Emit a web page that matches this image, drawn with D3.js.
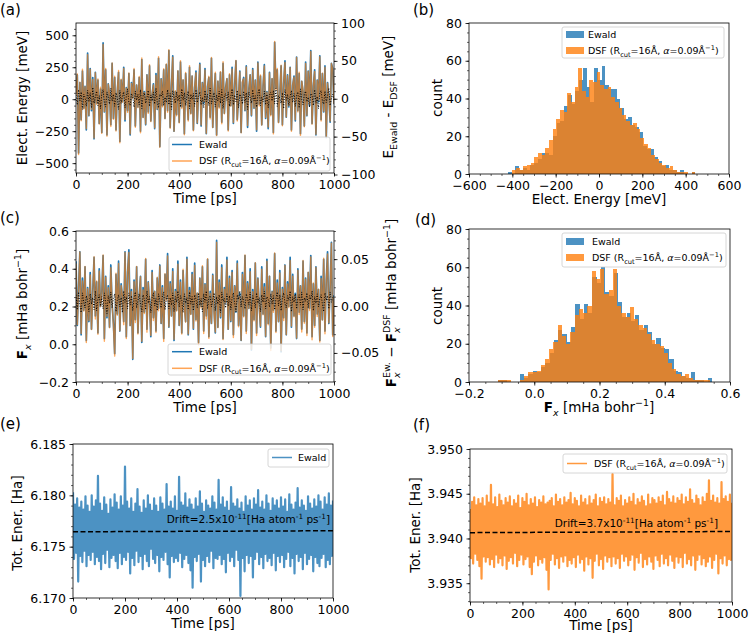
<!DOCTYPE html>
<html>
<head>
<meta charset="utf-8">
<script src="https://cdn.jsdelivr.net/npm/d3@7"></script>
<style>
  body { margin: 0; background: #fff; }
  svg text { font-family: "DejaVu Sans", sans-serif; }
</style>
</head>
<body>
<svg id="fig" width="750" height="638"></svg>
<script>
// ---- data ----

// (a) electrostatic energy, sampled every 5 ps [meV]
const timeA = d3.range(0, 1001, 5);
const elecEwald = [
  40, 190, -420, 130, -160, 220, -70, 100, -240, 360,
  -130, 240, -90, 170, -310, 210, -30, 150, -190, 80,
  -260, 440, -100, 230, -280, 120, 40, -200, 280, -150,
  170, -240, 60, 210, -330, 150, -20, 250, -170, 90,
  -90, 200, -280, 130, 10, 230, -210, 110, -60, 170,
  -250, 310, -140, 60, -200, 190, -100, 260, -170, 40,
  120, -230, 200, -80, 320, -370, 160, -50, 230, -150,
  270, -90, 380, -220, 100, 340, -250, 60, -120, 220,
  -180, 290, -60, 150, -270, 200, 30, -160, 250, -110,
  180, -240, 90, 220, -190, 60, 280, -210, 130, -30,
  240, -270, 100, 170, -140, 320, -220, 50, 200, -280,
  140, -60, 210, -180, 280, -110, 90, 160, -240, 190,
  -50, 250, -190, 110, 300, -160, 20, 220, -260, 130,
  170, -90, 260, -220, 80, 190, -130, 240, -70, 150,
  -250, 290, -40, 180, -200, 100, 270, -150, 60, -230,
  210, -120, 160, -260, 445, 90, 230, -180, 40, 260,
  -200, 120, 300, -140, 190, -60, 250, -240, 110, 180,
  -170, 330, -90, 200, -270, 140, 60, -210, 290, -130,
  220, -50, 380, -190, 100, 230, -280, 150, -20, 340,
  -160, 200, -100, 260, -300, 130, 20, -180, 280, 240,
  -40
];
// E_Ewald - E_DSF [meV], right axis
const elecDiff = [
  5, -8, 12, -3, 9, -14, 6, 2, -10, 11,
  -4, 8, -12, 15, -6, 3, 10, -9, 4, -13,
  7, 12, -5, -11, 9, 2, -7, 14, -3, 6,
  -10, 8, 1, -14, 11, -6, 4, 9, -12, 3,
  13, -5, -9, 7, 2, -11, 10, -2, 6, -8,
  12, -13, 4, 8, -6, 1, 11, -10, 5, -3,
  9, -7, 14, -4, -12, 6, 3, 10, -9, 2,
  -5, 12, -8, 7, -14, 11, 1, -6, 9, -3,
  5, -11, 13, -2, 8, -9, 4, 10, -13, 6,
  -1, 7, -10, 12, -5, 3, 9, -8, 2, -12,
  11, -4, 6, -9, 14, -7, 1, 8, -11, 5,
  -3, 10, -6, 12, -13, 4, 7, -2, 9, -10,
  3, 13, -8, 5, -4, 11, -12, 6, 2, -7,
  10, -5, 8, -14, 9, 1, -6, 12, -3, 4,
  -11, 7, 13, -9, 2, -4, 10, -8, 6, -12,
  5, 9, -3, 11, -7, 14, -10, 4, 1, -6,
  8, -13, 12, -2, 6, -9, 3, 11, -5, 7,
  -10, 4, 9, -12, 13, -1, -8, 6, 10, -4,
  2, -11, 7, 5, -9, 12, -6, 3, -13, 8,
  11, -3, -7, 10, -5, 4, 14, -9, 1, 6,
  -2
];
const elecDSF = elecEwald.map((v, i) => v - elecDiff[i]);

// (b) histogram counts of the electrostatic energy
const elecBinsEwald = { lo: -420, width: 17.3 };
const elecCountEwald = [
  1, 0, 4, 2, 3, 2, 5, 6, 8, 11,
  11, 10, 20, 27, 28, 36, 42, 37, 44, 50,
  56, 46, 38, 56, 50, 57, 47, 45, 45, 40,
  35, 29, 30, 26, 25, 22, 15, 13, 13, 9,
  7, 4, 5, 2, 2, 1, 2, 0, 0, 1
];
const elecBinsDSF = { lo: -400, width: 16.9 };
const elecCountDSF = [
  2, 3, 2, 4, 5, 6, 9, 11, 10, 14,
  18, 24, 29, 34, 33, 43, 38, 46, 56, 44,
  41, 50, 49, 54, 47, 45, 46, 41, 38, 35,
  31, 28, 26, 27, 24, 19, 16, 14, 10, 8,
  6, 5, 3, 4, 2, 1, 1, 1, 0, 1
];

// (c) force component F_x [mHa bohr^-1]
const timeC = d3.range(0, 1001, 5);
const forceEwald = [
  0.44, 0.10, 0.30, 0.49, 0.05, 0.35, 0.18, 0.41, 0.02, 0.30,
  0.12, 0.38, 0.08, 0.28, 0.46, 0.15, 0.33, 0.06, 0.40, 0.20,
  0.27, 0.47, 0.03, 0.36, 0.14, 0.31, 0.09, 0.42, 0.21, 0.11,
  -0.05, 0.37, 0.16, 0.44, 0.07, 0.32, 0.25, 0.12, 0.49, 0.04,
  0.38, 0.50, 0.10, 0.29, -0.08, 0.34, 0.13, 0.41, 0.06, 0.26,
  0.36, 0.01, 0.30, 0.17, 0.45, 0.08, 0.33, 0.22, 0.04, 0.39,
  0.14, 0.28, 0.07, 0.35, 0.19, 0.42, 0.11, 0.31, 0.03, 0.37,
  0.24, 0.48, 0.09, 0.33, 0.15, 0.40, 0.02, 0.29, 0.18, 0.44,
  0.10, 0.34, 0.06, 0.39, 0.21, 0.12, 0.46, 0.05, 0.30, 0.16,
  0.38, 0.08, 0.43, 0.13, 0.27, 0.01, 0.35, 0.20, 0.41, 0.07,
  0.32, 0.15, 0.45, 0.04, 0.28, 0.11, 0.37, 0.18, 0.06, 0.55,
  0.09, 0.34, 0.14, 0.42, 0.03, 0.30, 0.22, 0.46, 0.08, 0.36,
  0.12, 0.39, 0.05, 0.31, 0.17, 0.44, 0.10, 0.27, 0.02, 0.38,
  0.15, 0.47, 0.07, 0.33, 0.19, 0.40, -0.03, 0.29, 0.13, 0.43,
  0.06, 0.35, 0.21, 0.09, 0.41, 0.16, 0.32, 0.04, 0.45, 0.11,
  0.36, -0.02, 0.28, 0.18, 0.48, 0.07, 0.34, 0.12, 0.39, -0.04,
  0.30, 0.14, 0.42, 0.05, 0.33, 0.20, 0.46, 0.09, 0.37, 0.15,
  0.27, 0.03, 0.40, 0.17, 0.31, 0.08, 0.44, 0.12, 0.35, 0.06,
  0.38, 0.19, 0.47, 0.04, 0.32, 0.10, 0.41, 0.16, 0.29, 0.02,
  0.36, 0.13, 0.45, 0.07, 0.34, 0.49, 0.11, 0.30, 0.54, 0.05,
  0.26
];
// F_x^Ew. - F_x^DSF [mHa bohr^-1], right axis
const forceDiff = [
  0.012, -0.004, 0.015, 0.001, -0.007, 0.014, 0.004, -0.002, 0.011, 0.006,
  -0.006, 0.013, 0.002, 0.009, -0.004, 0.016, -0.005, 0.007, 0.012, 0.000,
  0.010, -0.003, 0.014, 0.005, -0.008, 0.011, 0.003, 0.015, -0.002, 0.008,
  0.013, -0.006, 0.006, 0.012, -0.001, 0.009, -0.007, 0.016, 0.004, 0.010,
  -0.003, 0.014, 0.001, 0.011, -0.005, 0.008, 0.015, -0.002, 0.006, 0.013,
  0.002, -0.006, 0.012, 0.007, -0.004, 0.016, 0.003, 0.010, -0.007, 0.009,
  0.014, 0.000, 0.008, -0.005, 0.013, 0.005, -0.002, 0.011, 0.015, -0.004,
  0.007, 0.012, -0.003, 0.009, 0.001, 0.014, -0.006, 0.010, 0.004, 0.016,
  -0.001, 0.011, 0.006, -0.007, 0.013, 0.003, 0.009, -0.004, 0.015, 0.002,
  0.010, -0.005, 0.012, 0.007, -0.002, 0.014, 0.001, 0.008, -0.006, 0.013,
  0.004, 0.016, -0.003, 0.009, 0.011, -0.001, 0.006, 0.014, -0.005, 0.010,
  0.002, 0.012, -0.007, 0.015, 0.005, 0.008, -0.002, 0.013, 0.000, 0.011,
  -0.004, 0.009, 0.014, 0.003, -0.006, 0.012, 0.007, 0.016, -0.001, 0.010,
  0.005, -0.003, 0.013, 0.008, 0.001, 0.015, -0.005, 0.011, 0.006, -0.002,
  0.014, 0.003, 0.009, -0.006, 0.012, 0.004, 0.016, -0.003, 0.010, 0.007,
  -0.001, 0.013, 0.002, 0.011, -0.004, 0.008, 0.015, 0.000, 0.012, -0.005,
  0.009, 0.014, 0.003, -0.002, 0.011, 0.006, 0.016, -0.006, 0.010, 0.004,
  0.013, -0.003, 0.008, 0.012, 0.001, 0.015, -0.004, 0.009, 0.005, 0.014,
  -0.002, 0.011, 0.007, 0.016, -0.005, 0.010, 0.003, 0.013, -0.001, 0.008,
  0.012, 0.002, -0.006, 0.014, 0.006, 0.011, -0.003, 0.015, 0.004, 0.009,
  0.010
];
const forceDSF = forceEwald.map((v, i) => v - forceDiff[i]);

// (d) histogram counts of F_x
const forceBinsEwald = { lo: -0.11, width: 0.0131 };
const forceCountEwald = [
  1, 1, 0, 0, 0, 4, 2, 4, 6, 5,
  8, 10, 15, 22, 27, 25, 21, 29, 41, 33,
  41, 36, 55, 52, 60, 47, 45, 57, 42, 34,
  36, 32, 35, 27, 30, 26, 20, 23, 18, 17,
  12, 6, 5, 3, 2, 5, 1, 1, 0, 2
];
const forceBinsDSF = { lo: -0.11, width: 0.0130 };
const forceCountDSF = [
  1, 1, 1, 0, 0, 1, 3, 5, 5, 6,
  9, 12, 17, 21, 30, 24, 20, 26, 35, 38,
  36, 40, 58, 54, 59, 46, 48, 59, 40, 36,
  34, 39, 33, 30, 28, 25, 22, 20, 19, 15,
  10, 7, 4, 3, 4, 2, 1, 1, 1, 1
];

// (e) total energy, Ewald [Ha], sampled every 4 ps
const timeE = d3.range(0, 1001, 4);
const totEwald = [
  6.1803,6.1738,6.1791,6.1744,6.1797,6.1716,6.1788,6.1741,6.1794,6.1735,
  6.1786,6.1746,6.1799,6.1731,6.1790,6.1742,6.1784,6.1737,6.1800,6.1745,
  6.1789,6.1733,6.1795,6.1740,6.1819,6.1736,6.1792,6.1728,6.1785,
  6.1743,6.1798,6.1734,6.1791,6.1747,6.1782,6.1730,6.1796,6.1739,6.1788,
  6.1742,6.1801,6.1736,6.1793,6.1729,6.1786,6.1744,6.1799,6.1733,6.1790,
  6.1740,6.1828,6.1737,6.1794,6.1745,6.1787,6.1724,6.1797,6.1739,6.1784,
  6.1732,6.1792,6.1746,6.1806,6.1735,6.1789,6.1741,6.1783,6.1728,6.1795,
  6.1743,6.1787,6.1736,6.1800,6.1731,6.1791,6.1748,6.1785,6.1738,6.1797,
  6.1734,6.1790,6.1742,6.1784,6.1726,6.1798,6.1740,6.1792,6.1737,6.1786,
  6.1745,6.1811,6.1733,6.1789,6.1720,6.1794,6.1741,6.1787,6.1735,6.1799,
  6.1739,6.1785,6.1736,6.1818,6.1744,6.1793,6.1730,6.1790,6.1738,6.1802,6.1742,
  6.1788,6.1734,6.1796,6.1727,6.1791,6.1710,6.1786,6.1740,6.1797,
  6.1736,6.1789,6.1743,6.1804,6.1716,6.1792,6.1737,6.1784,6.1731,6.1795,
  6.1741,6.1790,6.1735,6.1787,6.1746,6.1799,6.1729,6.1793,6.1739,6.1786,
  6.1738,
  6.1815,6.1742,6.1791,6.1733,6.1798,6.1738,6.1788,6.1725,6.1794,6.1744,
  6.1785,6.1736,6.1808,6.1740,6.1792,6.1731,6.1789,6.1747,6.1796,6.1737,
  6.1787,6.1702,6.1793,6.1739,6.1784,6.1726,6.1799,6.1742,6.1790,6.1734,
  6.1795,6.1741,6.1786,6.1720,6.1797,6.1738,6.1791,6.1745,6.1805,6.1733,
  6.1788,6.1740,6.1794,6.1729,6.1786,6.1743,6.1800,6.1736,6.1792,6.1739,
  6.1785,6.1732,6.1797,6.1744,6.1790,6.1727,6.1795,6.1741,6.1787,6.1735,
  6.1798,6.1742,6.1789,6.1730,6.1796,6.1738,6.1784,6.1745,6.1801,6.1731,
  6.1791,6.1739,6.1786,6.1724,6.1793,6.1743,6.1807,6.1736,6.1788,6.1740,
  6.1795,6.1728,6.1790,6.1744,6.1785,6.1733,6.1799,6.1738,6.1792,6.1742,
  6.1787,6.1726,6.1796,6.1740,6.1789,6.1734,6.1800,6.1731,6.1794,6.1739,
  6.1786,6.1743,6.1798,6.1730,6.1791,6.1737,6.1802,6.1733,6.1790,6.1741,
  6.1795
];
const driftEwald = [6.17645, 6.17655];   // linear fit at t = 0 and 1000 ps

// (f) total energy, DSF [Ha]
const timeF = d3.range(0, 1001, 4);
const totDSF = [
  3.9433,3.9378,3.9441,3.9372,3.9446,3.9383,3.9437,3.9376,3.9444,3.9369,
  3.9439,3.9355,3.9445,3.9380,3.9436,3.9374,3.9448,3.9379,3.9440,3.9371,
  3.9460,3.9377,3.9438,3.9368,3.9446,3.9382,3.9435,3.9373,3.9449,
  3.9378,3.9442,3.9370,3.9437,3.9381,3.9445,3.9366,3.9440,3.9375,3.9447,
  3.9379,3.9436,3.9372,3.9443,3.9384,3.9439,3.9369,3.9448,3.9376,3.9434,
  3.9382,3.9445,3.9371,3.9441,3.9377,3.9450,3.9380,3.9437,3.9368,3.9444,
  3.9360,3.9439,3.9374,3.9446,3.9381,3.9435,3.9370,3.9443,3.9377,3.9440,
  3.9373,3.9447,3.9379,3.9438,3.9365,3.9440,3.9343,3.9442,3.9376,3.9445,3.9383,
  3.9436,3.9371,3.9449,3.9378,3.9441,3.9367,3.9444,3.9380,3.9437,3.9374,
  3.9446,3.9381,3.9440,3.9369,3.9443,3.9376,3.9451,3.9372,3.9438,3.9379,
  3.9445,3.9368,3.9442,3.9382,3.9436,3.9373,3.9448,3.9377,3.9440,3.9364,
  3.9444,3.9380,3.9437,3.9371,3.9447,3.9378,3.9439,3.9356,3.9443,3.9375,
  3.9449,3.9383,3.9436,3.9370,3.9445,3.9377,3.9441,3.9366,3.9446,3.9381,
  3.9438,3.9374,3.9444,3.9379,3.9440,3.9369,3.9472,3.9380,3.9437,
  3.9372,3.9445,3.9378,3.9442,3.9367,3.9448,3.9383,3.9436,3.9375,3.9443,
  3.9380,3.9439,3.9370,3.9446,3.9376,3.9441,3.9382,3.9450,3.9365,3.9437,
  3.9379,3.9444,3.9373,3.9440,3.9384,3.9447,3.9368,3.9442,3.9377,3.9436,
  3.9371,3.9449,3.9380,3.9438,3.9374,3.9445,3.9366,3.9443,3.9381,3.9439,
  3.9376,3.9446,3.9369,3.9441,3.9383,3.9448,3.9372,3.9437,3.9378,3.9452,
  3.9370,3.9444,3.9382,3.9440,3.9375,3.9447,3.9367,3.9439,3.9380,3.9445,
  3.9373,3.9442,3.9379,3.9449,3.9368,3.9438,3.9384,3.9446,3.9372,3.9441,
  3.9377,3.9455,3.9370,3.9443,3.9381,3.9439,3.9365,3.9448,3.9376,3.9444,
  3.9382,3.9437,3.9371,3.9446,3.9378,3.9441,3.9369,3.9450,3.9374,3.9465,
  3.9380,3.9442,3.9367,3.9448,3.9376,3.9440,3.9383,3.9445,3.9361,3.9439,
  3.9378,3.9463,3.9372,3.9444,3.9381,3.9447,3.9370,3.9441,3.9377,3.9449,
  3.9376,3.9440
];
const driftDSF = [3.94065, 3.94078];

// ---- drawing ----
const FONT = 'DejaVu Sans';
const BLUE = '#1f77b4', ORANGE = '#ff7f0e';
const TICK_FS = 12.5, LABEL_FS = 13.5, LEG_FS = 9.5;
const svg = d3.select('#fig');
let clipN = 0;

function setupPanel(box, xDom, yDom) {
  const x = d3.scaleLinear().domain(xDom).range([box.x0, box.x1]);
  const y = d3.scaleLinear().domain(yDom).range([box.y1, box.y0]);
  const id = 'clip' + (clipN++);
  svg.append('clipPath').attr('id', id).append('rect')
    .attr('x', box.x0).attr('y', box.y0)
    .attr('width', box.x1 - box.x0).attr('height', box.y1 - box.y0);
  const plot = svg.append('g').attr('clip-path', `url(#${id})`);
  return { box, x, y, plot };
}

function axis(kind, scale, major, minor, fmt, pos) {
  const mk = { left: d3.axisLeft, right: d3.axisRight, bottom: d3.axisBottom }[kind];
  const tr = kind === 'bottom' ? `translate(0,${pos})` : `translate(${pos},0)`;
  svg.append('g').attr('transform', tr)
    .call(mk(scale).tickValues(minor).tickSize(2).tickFormat(''))
    .call(g => g.select('.domain').remove())
    .selectAll('line').attr('stroke', '#000').attr('stroke-width', 0.6);
  const g = svg.append('g').attr('transform', tr)
    .call(mk(scale).tickValues(major).tickSize(3.5).tickPadding(3.5).tickFormat(fmt));
  g.attr('font-family', FONT).attr('font-size', TICK_FS);
  g.select('.domain').remove();
  g.selectAll('line').attr('stroke', '#000').attr('stroke-width', 0.8);
  g.selectAll('text').attr('fill', '#000');
}

function frame(p) {
  const b = p.box;
  svg.append('rect').attr('x', b.x0).attr('y', b.y0)
    .attr('width', b.x1 - b.x0).attr('height', b.y1 - b.y0)
    .attr('fill', 'none').attr('stroke', '#000').attr('stroke-width', 0.8);
}

// text with sub/superscripts; parts = [text, 'sub'|'sup'|null, style, dxEm]
function rich(t, parts, size) {
  let shift = 0;
  parts.forEach(([s, k, st, dx]) => {
    const target = k === 'sub' ? 0.3 : k === 'sup' ? -0.42 : 0;
    const ts = t.append('tspan').text(s).attr('dy', (target - shift) * size);
    shift = target;
    if (k) ts.attr('font-size', size * 0.7);
    if (st) ts.attr('style', st);
    if (dx) ts.attr('dx', dx * size);
  });
  return t;
}

function label(x, y, parts, size, rotate, anchor) {
  const t = svg.append('text')
    .attr('transform', `translate(${x},${y})` + (rotate ? ' rotate(-90)' : ''))
    .attr('text-anchor', anchor || 'middle').attr('font-size', size).attr('fill', '#000');
  if (typeof parts === 'string') t.text(parts); else rich(t, parts, size);
  return t;
}

function legendBox(x, y, w, h) {
  svg.append('rect').attr('x', x).attr('y', y).attr('width', w).attr('height', h)
    .attr('rx', 2).attr('fill', '#fff').attr('fill-opacity', 0.8)
    .attr('stroke', '#cccccc').attr('stroke-width', 0.8);
}
function legendLine(x, y, color, op) {
  svg.append('line').attr('x1', x).attr('x2', x + 20).attr('y1', y).attr('y2', y)
    .attr('stroke', color).attr('stroke-width', 1.5).attr('stroke-opacity', op || 1);
}
function legendPatch(x, y, color) {
  svg.append('rect').attr('x', x).attr('y', y - 3.5).attr('width', 18).attr('height', 7)
    .attr('fill', color).attr('fill-opacity', 0.8);
}
const dsfParts = [['DSF (R'], ['cut', 'sub'], ['=16Å, '], ['α', null, 'font-style:italic'],
  ['=0.09Å'], ['−1', 'sup'], [')']];

function seriesLine(p, t, vals, yScale, color, width, op, dash) {
  const path = p.plot.append('path').datum(vals)
    .attr('fill', 'none').attr('stroke', color).attr('stroke-width', width)
    .attr('stroke-opacity', op).attr('stroke-linejoin', 'round')
    .attr('d', d3.line().x((d, i) => p.x(t[i])).y(d => yScale(d)));
  if (dash) path.attr('stroke-dasharray', dash);
}

function hist(p, bins, counts, color) {
  p.plot.append('g').selectAll('rect').data(counts).join('rect')
    .attr('x', (d, i) => p.x(bins.lo + i * bins.width))
    .attr('width', (d, i) => p.x(bins.lo + (i + 1) * bins.width) - p.x(bins.lo + i * bins.width))
    .attr('y', d => p.y(d)).attr('height', d => p.y(0) - p.y(d))
    .attr('fill', color).attr('fill-opacity', 0.8).attr('shape-rendering', 'crispEdges');
}

const timeMajor = d3.range(0, 1001, 200), timeMinor = d3.range(0, 1001, 50);

// ---------- (a) ----------
{
  const p = setupPanel({ x0: 76, x1: 334, y0: 23, y1: 173 }, [0, 1000], [-577, 596]);
  const yR = d3.scaleLinear().domain([-98, 100]).range([173, 23]);
  seriesLine(p, timeA, elecEwald, p.y, BLUE, 1.7, 1);
  seriesLine(p, timeA, elecDSF, p.y, ORANGE, 1.4, 0.65);
  seriesLine(p, timeA, elecDiff, yR, '#000', 1, 1, '1,1.6');
  axis('left', p.y, [-500, -250, 0, 250, 500], d3.range(-550, 600, 50), d3.format('d'), 76);
  axis('right', yR, [-100, -50, 0, 50, 100], d3.range(-90, 101, 10), d3.format('d'), 334);
  axis('bottom', p.x, timeMajor, timeMinor, d3.format('d'), 173);
  legendBox(169, 137, 161, 34);
  legendLine(172, 144.5, BLUE);
  label(199, 147.8, 'Ewald', LEG_FS, false, 'start');
  legendLine(172, 161, ORANGE, 0.7);
  label(199, 164.3, dsfParts, LEG_FS, false, 'start');
  frame(p);
  label(27, 98, 'Elect. Energy [meV]', LABEL_FS, true);
  label(205, 202.5, 'Time [ps]', LABEL_FS);
  label(393, 97, [['E'], ['Ewald', 'sub'], [' - E'], ['DSF', 'sub'], [' [meV]']], LABEL_FS, true);
  label(0, 15, '(a)', 15, false, 'start');
}

// ---------- (b) ----------
{
  const p = setupPanel({ x0: 469, x1: 729, y0: 23, y1: 174 }, [-600, 600], [0, 80]);
  hist(p, elecBinsEwald, elecCountEwald, BLUE);
  hist(p, elecBinsDSF, elecCountDSF, ORANGE);
  axis('left', p.y, d3.range(0, 81, 20), d3.range(0, 81, 5), d3.format('d'), 469);
  axis('bottom', p.x, d3.range(-600, 601, 200), d3.range(-600, 601, 50), d3.format('d'), 174);
  legendBox(562, 27, 162, 31);
  legendPatch(566, 34.5, BLUE);
  label(588, 37.8, 'Ewald', LEG_FS, false, 'start');
  legendPatch(566, 50.5, ORANGE);
  label(588, 54, dsfParts, LEG_FS, false, 'start');
  frame(p);
  label(442, 98, 'count', LABEL_FS, true);
  label(599, 203.5, 'Elect. Energy [meV]', LABEL_FS);
  label(413, 14.5, '(b)', 15, false, 'start');
}

// ---------- (c) ----------
{
  const p = setupPanel({ x0: 76, x1: 334, y0: 231, y1: 382 }, [0, 1000], [-0.2, 0.6]);
  const yR = d3.scaleLinear().domain([-0.081, 0.080]).range([382, 231]);
  seriesLine(p, timeC, forceEwald, p.y, BLUE, 1.7, 1);
  seriesLine(p, timeC, forceDSF, p.y, ORANGE, 1.4, 0.65);
  seriesLine(p, timeC, forceDiff, yR, '#000', 1, 1, '1,1.6');
  axis('left', p.y, [-0.2, 0, 0.2, 0.4, 0.6], d3.range(-0.2, 0.601, 0.05), d3.format('.1f'), 76);
  axis('right', yR, [-0.05, 0, 0.05], d3.range(-0.08, 0.0801, 0.01), d3.format('.2f'), 334);
  axis('bottom', p.x, timeMajor, timeMinor, d3.format('d'), 382);
  legendBox(168, 344, 163, 31);
  legendLine(172, 351.7, BLUE);
  label(199, 355, 'Ewald', LEG_FS, false, 'start');
  legendLine(172, 368.3, ORANGE, 0.7);
  label(199, 371.6, dsfParts, LEG_FS, false, 'start');
  frame(p);
  const sx = -0.592 * 0.7;
  label(27, 304, [['F', null, 'font-weight:bold'], ['x', 'sub', 'font-style:italic'],
    [' [mHa bohr'], ['−1', 'sup'], [']']], LABEL_FS, true);
  label(396, 303, [['F', null, 'font-weight:bold'], ['x', 'sub', 'font-style:italic'],
    ['Ew.', 'sup', null, sx], [' − '], ['F', null, 'font-weight:bold'],
    ['x', 'sub', 'font-style:italic'], ['DSF', 'sup', null, sx],
    [' [mHa bohr'], ['−1', 'sup'], [']']], LABEL_FS, true);
  label(205, 411.5, 'Time [ps]', LABEL_FS);
  label(0, 223, '(c)', 15, false, 'start');
}

// ---------- (d) ----------
{
  const p = setupPanel({ x0: 469, x1: 730, y0: 229, y1: 382 }, [-0.2, 0.6], [0, 80]);
  hist(p, forceBinsEwald, forceCountEwald, BLUE);
  hist(p, forceBinsDSF, forceCountDSF, ORANGE);
  axis('left', p.y, d3.range(0, 81, 20), d3.range(0, 81, 5), d3.format('d'), 469);
  axis('bottom', p.x, [-0.2, 0, 0.2, 0.4, 0.6], d3.range(-0.2, 0.601, 0.05), d3.format('.1f'), 382);
  legendBox(562, 233, 164, 34);
  legendPatch(566, 241.5, BLUE);
  label(592, 245, 'Ewald', LEG_FS, false, 'start');
  legendPatch(566, 257.5, ORANGE);
  label(592, 260.8, dsfParts, LEG_FS, false, 'start');
  frame(p);
  label(442, 306, 'count', LABEL_FS, true);
  label(599, 411.5, [['F', null, 'font-weight:bold'], ['x', 'sub', 'font-style:italic'],
    [' [mHa bohr'], ['−1', 'sup'], [']']], LABEL_FS);
  label(415, 225, '(d)', 15, false, 'start');
}

const driftParts = (v) => [['Drift=' + v + 'x10'], ['-11', 'sup'], ['[Ha atom'], ['-1', 'sup'],
  [' ps'], ['-1', 'sup'], [']']];

// ---------- (e) ----------
{
  const p = setupPanel({ x0: 73, x1: 333, y0: 444, y1: 598 }, [0, 1000], [6.170, 6.185]);
  seriesLine(p, timeE, totEwald, p.y, BLUE, 2.2, 0.8);
  seriesLine(p, [0, 1000], driftEwald, p.y, '#000', 1.5, 1, '5,2.5');
  axis('left', p.y, [6.170, 6.175, 6.180, 6.185], d3.range(6.170, 6.1851, 0.001), d3.format('.3f'), 73);
  axis('bottom', p.x, timeMajor, timeMinor, d3.format('d'), 598);
  label(330, 523, driftParts('2.5'), 10.5, false, 'end');
  legendBox(268, 449, 61, 18);
  legendLine(272, 457.5, BLUE, 0.8);
  label(298, 461, 'Ewald', LEG_FS, false, 'start');
  frame(p);
  label(21.5, 523, 'Tot. Ener. [Ha]', LABEL_FS, true);
  label(203, 628, 'Time [ps]', LABEL_FS);
  label(0, 429, '(e)', 15, false, 'start');
}

// ---------- (f) ----------
{
  const p = setupPanel({ x0: 470, x1: 732, y0: 449, y1: 602 }, [0, 1000], [3.9329, 3.950]);
  seriesLine(p, timeF, totDSF, p.y, ORANGE, 2.2, 0.8);
  seriesLine(p, [0, 1000], driftDSF, p.y, '#000', 1.5, 1, '5,2.5');
  axis('left', p.y, [3.935, 3.940, 3.945, 3.950], d3.range(3.933, 3.9501, 0.001), d3.format('.3f'), 470);
  axis('bottom', p.x, timeMajor, timeMinor, d3.format('d'), 602);
  label(718, 527, driftParts('3.7'), 10.5, false, 'end');
  legendBox(563, 454, 164, 19);
  legendLine(567, 463.5, ORANGE, 0.8);
  label(594, 467, dsfParts, LEG_FS, false, 'start');
  frame(p);
  label(419.5, 525, 'Tot. Ener. [Ha]', LABEL_FS, true);
  label(601, 630, 'Time [ps]', LABEL_FS);
  label(413, 430, '(f)', 15, false, 'start');
}
</script>
</body>
</html>
